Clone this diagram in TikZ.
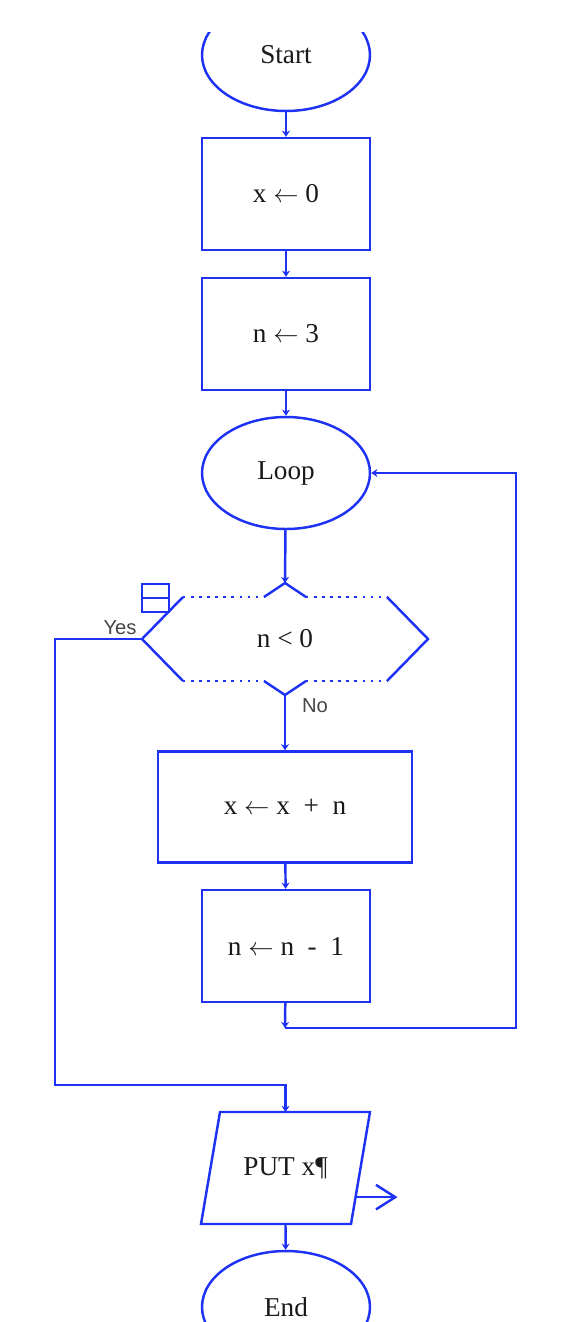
\documentclass[tikz,border=0pt]{standalone}
\usepackage{fontspec}
\setmainfont{Liberation Serif}
\newfontfamily\labelfont{Liberation Sans}
\usetikzlibrary{shapes.geometric,arrows.meta,calc,positioning}

\definecolor{flowblue}{RGB}{30,50,245}
\definecolor{labelgray}{RGB}{70,70,70}

\tikzset{
  every node/.style={font=\fontsize{15.5}{18}\selectfont, text=black!90},
  terminal/.style={ellipse, draw=flowblue, line width=1.4pt,
    minimum width=3.36cm, minimum height=2.24cm, inner sep=0pt},
  process/.style={rectangle, draw=flowblue, line width=1.4pt,
    minimum width=3.36cm, minimum height=2.24cm, inner sep=0pt},
  line/.style={draw=flowblue, line width=1.4pt},
  flow/.style={line, -{Stealth[length=3.5pt,width=4.5pt]}},
  dots/.style={line, dash pattern=on 1.4pt off 3.2pt},
  answer/.style={font=\labelfont\fontsize{11.5}{13}\selectfont, text=labelgray, inner sep=1pt}
}
\newcommand{\getsarrow}{$\leftarrow$}

\begin{document}
\begin{tikzpicture}[x=0.02cm,y=-0.02cm]
  \useasboundingbox (0,0) rectangle (572,1322);

  \begin{scope}
  \clip (0,32) rectangle (572,1322);

  % Main column of boxes
  \node[terminal] (start) at (286,55)   {Start};
  \node[process]  (x0)    at (286,194)  {x \getsarrow\ 0};
  \node[process]  (n3)    at (286,334)  {n \getsarrow\ 3};
  \node[terminal] (loop)  at (286,473)  {Loop};
  \node           (dec)   at (285,639)  {n < 0};
  \node[process, minimum width=5.08cm, minimum height=2.22cm]
                  (xn)    at (285,807)  {x \getsarrow\ x \ + \ n};
  \node[process]  (nm1)   at (286,946)  {n \getsarrow\ n \ - \ 1};
  \node           (put)   at (285.5,1168) {PUT x¶};
  \node[terminal] (end)   at (286,1307) {End};

  % Slanted output box
  \coordinate (pTL) at ($(put)+(-65.5,-56)$);
  \coordinate (pTR) at ($(put)+(84.5,-56)$);
  \coordinate (pBR) at ($(put)+(65.5,56)$);
  \coordinate (pBL) at ($(put)+(-84.5,56)$);
  \coordinate (pN)  at ($(put)+(0,-56)$);
  \coordinate (pS)  at ($(put)+(0,56)$);
  \draw[line] (pTL) -- (pTR) -- (pBR) -- (pBL) -- cycle;

  % Hexagon corners of the test
  \coordinate (dL)  at ($(dec)+(-143,0)$);
  \coordinate (dR)  at ($(dec)+(143,0)$);
  \coordinate (dTL) at ($(dec)+(-102,-42)$);
  \coordinate (dTR) at ($(dec)+(102,-42)$);
  \coordinate (dBL) at ($(dec)+(-102,42)$);
  \coordinate (dBR) at ($(dec)+(102,42)$);
  \coordinate (dTa) at ($(dec)+(-21,-42)$);
  \coordinate (dTb) at ($(dec)+(21,-42)$);
  \coordinate (dBa) at ($(dec)+(-21,42)$);
  \coordinate (dBb) at ($(dec)+(21,42)$);
  \coordinate (dIn)  at ($(dec)+(0,-56)$); % top notch
  \coordinate (dOut) at ($(dec)+(0,56)$);  % bottom notch

  % Test outline: solid slants, dotted top and bottom
  \draw[line] (dTL) -- (dL) -- (dBL);
  \draw[line] (dTR) -- (dR) -- (dBR);
  \draw[line] (dTa) -- (dIn) -- (dTb);
  \draw[line] (dBa) -- (dOut) -- (dBb);
  \draw[dots] (dTL) -- (dTa);
  \draw[dots] (dTb) -- (dTR);
  \draw[dots] (dBL) -- (dBa);
  \draw[dots] (dBb) -- (dBR);

  % Small mark at the upper left of the test
  \draw[line, line width=1.1pt] ($(dec)+(-143,-55)$) rectangle ($(dec)+(-116,-27)$);
  \draw[line, line width=1.1pt] ($(dec)+(-143,-41)$) -- ($(dec)+(-116,-41)$);

  % Straight flow
  \draw[flow] (start) -- (x0);
  \draw[flow] (x0) -- (n3);
  \draw[flow] (n3) -- (loop);
  \draw[flow] (loop) -- (dIn);
  \draw[flow] (dOut) -- (xn) node[answer, pos=0.2, right=8pt] {No};
  \draw[flow] (xn) -- (nm1);
  \draw[flow] (pS) -- (end);

  % Back to the loop
  \coordinate (back) at (285,1028);
  \coordinate (side) at (516,473);
  \draw[flow] (nm1) -- (back);
  \draw[flow] (back) -| (side) -- (loop.east);

  % Yes branch round the left
  \coordinate (left) at (55,1085);
  \draw[flow] (dL) -| (left) -| (pN);
  \node[answer] (yes) at (120,628) {Yes};

  % Output arrow
  \coordinate (outA) at ($(pBR)!0.24!(pTR)$);
  \coordinate (outB) at ($(outA)+(42,0)$);
  \draw[line, -{Straight Barb[length=11pt,width=14pt]}] (outA) -- (outB);
  \end{scope}

\end{tikzpicture}
\end{document}
